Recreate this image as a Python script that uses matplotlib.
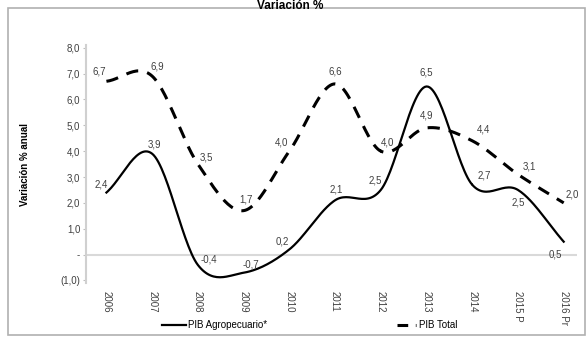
import numpy as np
import matplotlib
matplotlib.use("Agg")
import matplotlib.pyplot as plt
from matplotlib.patches import Rectangle
from matplotlib.lines import Line2D

# data
years = ["2006", "2007", "2008", "2009", "2010", "2011", "2012", "2013", "2014", "2015 P", "2016 Pr"]
pib_agro = [2.4, 3.9, -0.4, -0.7, 0.2, 2.1, 2.5, 6.5, 2.7, 2.5, 0.5]
pib_total = [6.7, 6.9, 3.5, 1.7, 4.0, 6.6, 4.0, 4.9, 4.4, 3.1, 2.0]
yticks = [-1, 0, 1, 2, 3, 4, 5, 6, 7, 8]
ytick_labels = ["(1,0)", "-", "1,0", "2,0", "3,0", "4,0", "5,0", "6,0", "7,0", "8,0"]

# label offsets in points (dx, dy)
agro_off = [(-4, 6), (2, 7), (8, 4), (5, 6), (-5, 6), (1, 8), (-4, 7), (0, 10), (9, 7), (0, -9), (-6, -9)]
total_off = [(-5, 7), (4, 7), (6, 5), (2, 8), (-6, 6), (0, 9), (5, 6), (0, 9), (8, 8), (8, 6), (6, 6)]


def smooth(x, y, n=30):
    # Catmull-Rom style curve, like Excel "smoothed line"
    x = np.asarray(x, float)
    y = np.asarray(y, float)
    px = np.concatenate([[2 * x[0] - x[1]], x, [2 * x[-1] - x[-2]]])
    py = np.concatenate([[2 * y[0] - y[1]], y, [2 * y[-1] - y[-2]]])
    xs, ys = [], []
    t = np.linspace(0, 1, n)
    for i in range(1, len(px) - 2):
        for arr, out in ((px, xs), (py, ys)):
            p0, p1, p2, p3 = arr[i - 1], arr[i], arr[i + 1], arr[i + 2]
            out.append(0.5 * ((2 * p1) + (-p0 + p2) * t
                              + (2 * p0 - 5 * p1 + 4 * p2 - p3) * t ** 2
                              + (-p0 + 3 * p1 - 3 * p2 + p3) * t ** 3))
    return np.concatenate(xs), np.concatenate(ys)


def fmt(v):
    return f"{v:.1f}".replace(".", ",")


plt.rcParams["font.family"] = ["Liberation Sans", "DejaVu Sans"]
fig = plt.figure(figsize=(5.88, 3.39), dpi=100)
ax = fig.add_axes([0.146, 0.165, 0.836, 0.702])

x = np.arange(len(years))
ax.axhline(0, color="#d9d9d9", lw=1.5, zorder=1)

sx, sy = smooth(x, pib_agro)
ax.plot(sx, sy, color="black", lw=1.6, zorder=3)
sx, sy = smooth(x, pib_total)
ax.plot(sx, sy, color="black", lw=2.2, ls=(0, (4, 3)), zorder=3)

for i in range(len(x)):
    ax.annotate(fmt(pib_agro[i]), (x[i], pib_agro[i]), xytext=agro_off[i],
                textcoords="offset points", ha="center", va="center",
                fontsize=7, color="#404040", zorder=4)
    ax.annotate(fmt(pib_total[i]), (x[i], pib_total[i]), xytext=total_off[i],
                textcoords="offset points", ha="center", va="center",
                fontsize=7, color="#404040", zorder=4)

ax.set_xlim(-0.45, 10.3)
ax.set_ylim(-1.1, 8.1)
ax.set_xticks(x)
ax.set_xticklabels(years, rotation=-90, fontsize=7, color="#404040")
ax.set_yticks(yticks)
ax.set_yticklabels(ytick_labels, fontsize=7, color="#404040")
ax.tick_params(axis="x", length=0, pad=6)
ax.tick_params(axis="y", length=2, color="#bfbfbf", pad=2)
for s in ["top", "right", "bottom"]:
    ax.spines[s].set_visible(False)
ax.spines["left"].set_color("#d0d0d0")
ax.spines["left"].set_linewidth(1.5)
ax.set_ylabel("Variación % anual", fontsize=7, fontweight="bold", labelpad=22)

# legend
handles = [Line2D([], [], color="black", lw=1.6),
           Line2D([], [], color="black", lw=2.2, ls=(0, (3.5, 2.5)))]
fig.legend(handles[:1], ["PIB Agropecuario*"], loc="center left",
           bbox_to_anchor=(0.26, 0.04), frameon=False, fontsize=7,
           handlelength=2.5, handletextpad=0.2)
fig.legend(handles[1:], ["PIB Total"], loc="center left",
           bbox_to_anchor=(0.66, 0.04), frameon=False, fontsize=7,
           handlelength=2.0, handletextpad=0.3)

# outer border and title
fig.patches.append(Rectangle((8 / 588, 4 / 339), 577 / 588, 327 / 339,
                             transform=fig.transFigure, fill=False,
                             edgecolor="#b0b0b0", lw=1.2))
fig.text(0.493, 1.0, "Variación %", ha="center", va="top",
         fontsize=8.5, fontweight="bold")

fig.savefig("out.png", dpi=100)
